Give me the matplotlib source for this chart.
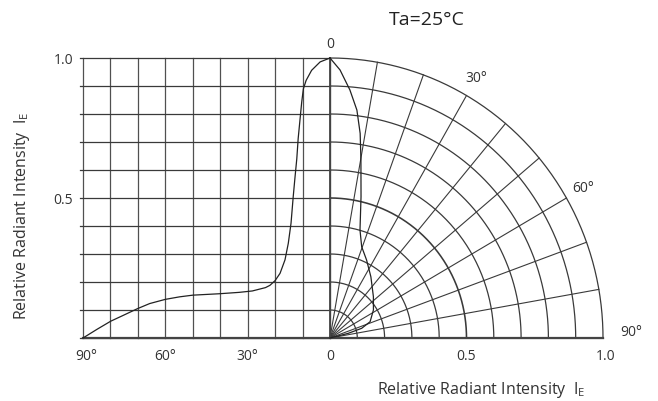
import matplotlib.pyplot as plt
import numpy as np

plt.rcParams['font.family'] = ['Open Sans', 'DejaVu Sans']

# left (cartesian) curve: angle in degrees, relative intensity
cart_angle = [0, 3.6, 6.7, 8.7, 9.7, 10.3, 10.9, 11.6, 12.1, 12.8, 13.4, 14.2, 15.2,
              16.4, 18.2, 20.0, 21.9, 23.5, 28.3, 33.1, 40.4, 50.0, 54.8, 60.0,
              65.7, 70.1, 75.3, 79.9, 84.9, 90]
cart_int = [1.0, 0.986, 0.956, 0.920, 0.890, 0.843, 0.783, 0.712, 0.640, 0.569, 0.505,
            0.41, 0.338, 0.279, 0.231, 0.205, 0.188, 0.180, 0.168, 0.163, 0.158, 0.153,
            0.147, 0.138, 0.123, 0.105, 0.081, 0.060, 0.031, 0.0]

# right (polar) curve: angle in degrees, relative intensity
polar_angle = [0, 2.2, 4.7, 6.9, 8.6, 10.1, 12.7, 15.9, 19.6, 25.7, 34.4, 47.1,
               57.8, 68.4, 73.4, 76.0, 90]
polar_int = [1.0, 0.958, 0.889, 0.820, 0.739, 0.646, 0.517, 0.401, 0.346, 0.309,
             0.265, 0.217, 0.188, 0.158, 0.121, 0.069, 0.0]

left_ticks = [90, 60, 30, 0]
left_labels = ['90°', '60°', '30°', '0']
right_ticks = [0.5, 1.0]
right_labels = ['0.5', '1.0']
y_ticks = [0.5, 1.0]
y_labels = ['0.5', '1.0']
angle_marks = [0, 30, 60, 90]
angle_mark_labels = ['0', '30°', '60°', '90°']

W, H = 658, 401
fig = plt.figure(figsize=(W / 100, H / 100), dpi=100)
ax = fig.add_axes([0, 0, 1, 1])
# data units: polar radius 1 = 273 px wide, 280 px tall; origin at pixel (330, 338)
sx, sy = 273.0, 280.0
ax.set_xlim(-330 / sx, (W - 330) / sx)
ax.set_ylim(-(H - 338) / sy, 338 / sy)
ax.axis('off')

kx = 247.0 / sx / 90.0  # left grid: degrees -> data units
gc = '#3a3a3a'

# left grid
for a in range(0, 91, 10):
    ax.plot([-a * kx, -a * kx], [0, 1], color='#505050', lw=0.9)
for i in range(11):
    y = i / 10
    ax.plot([-90 * kx - 0.01, 0], [y, y], color=gc, lw=0.9)

# polar grid
t = np.linspace(0, np.pi / 2, 200)
for i in range(1, 11):
    r = i / 10
    ax.plot(r * np.sin(t), r * np.cos(t), color=gc, lw=1.15 if i == 5 else 0.9)
for a in range(0, 91, 10):
    th = np.radians(a)
    ax.plot([0, np.sin(th)], [0, np.cos(th)], color=gc, lw=0.8)

ax.plot([-90 * kx, 1], [0, 0], color='#444444', lw=1.6)
ax.plot([0, 0], [0, 1], color='#444444', lw=1.3)

# curves
ca = np.array(cart_angle)
ax.plot(-ca * kx, cart_int, color='#222222', lw=0.9)
pa = np.radians(polar_angle)
pr = np.array(polar_int)
ax.plot(pr * np.sin(pa), pr * np.cos(pa), color='#222222', lw=0.9)

fs = 10
tc = '#333333'
ylab = -19 / sy
for a, lab in zip(left_ticks, left_labels):
    ax.text(-a * kx + (3 / sx if a == 90 else 0), ylab, lab, ha='center', va='center',
            fontsize=fs, color=tc)
for v, lab in zip(right_ticks, right_labels):
    ax.text(v + (3 / sx if v == 1.0 else 0), ylab, lab, ha='center', va='center',
            fontsize=fs, color=tc)
for v, lab in zip(y_ticks, y_labels):
    ax.text(-90 * kx - 10 / sx, v - 3 / sy, lab, ha='right', va='center', fontsize=fs, color=tc)

for a, lab in zip(angle_marks, angle_mark_labels):
    th = np.radians(a)
    if a == 0:
        ax.text(0, 1 + 14 / sy, lab, ha='center', va='center', fontsize=fs, color=tc)
    elif a == 90:
        ax.text(1 + 28 / sx, 5 / sy, lab, ha='center', va='center', fontsize=fs, color=tc)
    else:
        r = 1.07
        ax.text(r * np.sin(th), r * np.cos(th), lab, ha='center', va='center',
                fontsize=fs, color=tc)

ax.text((427 - 330) / sx, (338 - 20) / sy, 'Ta=25°C', ha='center', va='center',
        fontsize=14, color='#222222')
ax.text((481 - 330) / sx, -(390 - 338) / sy, r'Relative Radiant Intensity  I$_\mathregular{E}$',
        ha='center', va='center', fontsize=11.5, color=tc)
ax.text((22 - 330) / sx, (338 - 216) / sy, r'Relative Radiant Intensity  I$_\mathregular{E}$',
        ha='center', va='center', rotation=90, fontsize=11.5, color=tc)

fig.savefig('out.png', dpi=100)
